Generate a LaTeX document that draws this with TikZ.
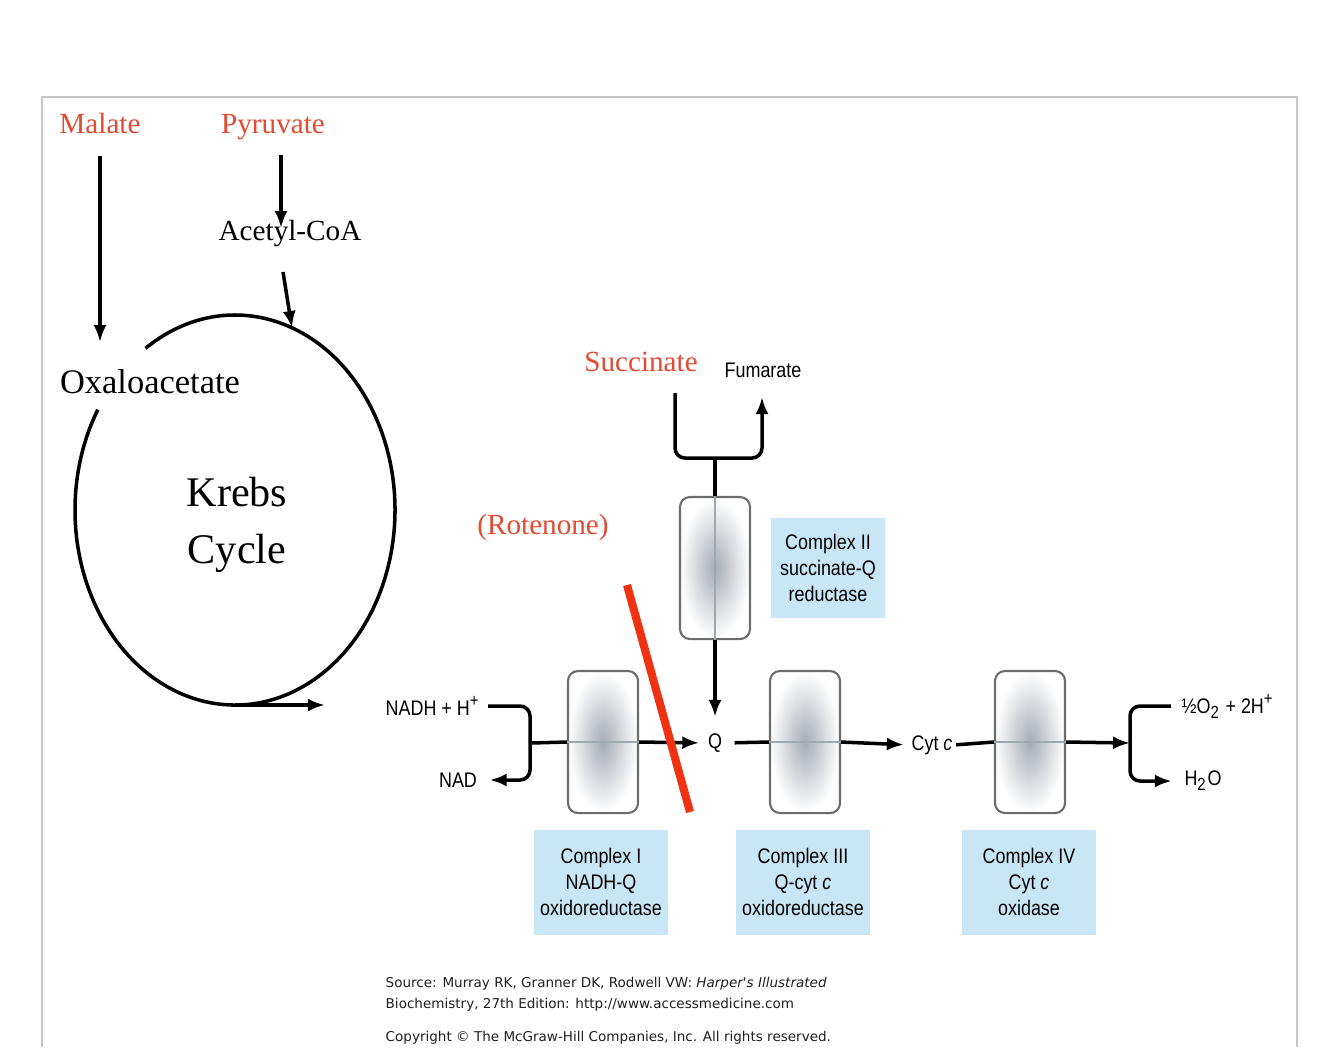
\documentclass[tikz,border=0pt]{standalone}
\usepackage{fontspec}
\setmainfont{Liberation Serif}
\newfontfamily\etich[FakeStretch=0.85]{Liberation Sans}
\newfontfamily\fonte{DejaVu Sans}
\usetikzlibrary{arrows.meta}
\definecolor{rossoc}{RGB}{226,74,50}
\definecolor{azzurro}{RGB}{200,230,246}
\definecolor{barra}{RGB}{238,50,18}
\definecolor{cornice}{RGB}{200,200,200}
\definecolor{nucleo}{RGB}{165,172,182}

\begin{document}
\begin{tikzpicture}[x=0.01cm, y=-0.01cm,
  every node/.style={inner sep=0pt},
  freccia/.style={line width=1pt, -{Latex[length=1.7mm,width=1.3mm]}},
  linea/.style={line width=1pt, rounded corners=1mm},
  rosso/.style={text=rossoc, font=\fontsize{8.3}{10}\selectfont},
  complesso/.style={draw=gray!85!black, line width=0.6pt, rounded corners=1mm, minimum width=0.7cm, minimum height=1.42cm, inner color=nucleo, outer color=white},
  interno/.style={line width=0.4pt, gray!60!azzurro},
  etichetta/.style={fill=azzurro, minimum width=1.33cm, minimum height=1.05cm, align=center, font=\etich\fontsize{6}{7.5}\selectfont},
  piccolo/.style={font=\etich\fontsize{6}{7}\selectfont}]

\useasboundingbox (0,0) rectangle (1334,1047);
\draw[cornice, line width=0.8pt] (42,1047) -- (42,97) -- (1297,97) -- (1297,1047);

% Ciclo di Krebs
\node[rosso, anchor=base] (mal) at (100,133) {Malate};
\node[rosso, anchor=base] (pir) at (273,133) {Pyruvate};
\node[font=\fontsize{8.3}{10}\selectfont] (acc) at (290,234) {Acetyl-CoA};
\node[font=\fontsize{9.8}{12}\selectfont] (oxa) at (150,382) {Oxaloacetate};
\node[font=\fontsize{12}{16}\selectfont, align=center] (krebs) at (237,525) {Krebs\\Cycle};

\coordinate (kc) at (235,510);
\coordinate (kb) at (235,705);
\coordinate (ko) at (325,705);
\coordinate (p1) at (281,155);
\coordinate (p2) at (281,228);
\coordinate (a1) at (283,272);
\coordinate (a2) at (292,328);

\draw[line width=1pt] (kc) ++(236:160 and 195) arc[start angle=236, end angle=571, x radius=160, y radius=195];
\draw[freccia, shorten <=2.2mm, shorten >=2.7mm] (mal.south) -- (mal.south |- oxa.north);
\draw[freccia] (p1) -- (p2);
\draw[freccia] (a1) -- (a2);
\draw[freccia] (kb) -- (ko);

% Catena respiratoria
\node[rosso] (suc) at (641,362) {Succinate};
\node[piccolo] (fum) at (763,370) {Fumarate};
\node[rosso] (rot) at (543,527) {(Rotenone)};

\node[complesso] (c1) at (603,742) {};
\node[complesso] (c2) at (715,568) {};
\node[complesso] (c3) at (805,742) {};
\node[complesso] (c4) at (1030,742) {};

\node[etichetta] (l1) at (601,882) {Complex I\\NADH-Q\\oxidoreductase};
\node[etichetta, minimum width=1.13cm, minimum height=1cm] (l2) at (828,568) {Complex II\\succinate-Q\\reductase};
\node[etichetta] (l3) at (803,882) {Complex III\\Q-cyt \textit{c}\\oxidoreductase};
\node[etichetta] (l4) at (1029,882) {Complex IV\\Cyt \textit{c}\\oxidase};

\node[piccolo] (nadh) at (433,706) {NADH + H\textsuperscript{+}};
\node[piccolo] (nad) at (458,780) {NAD};
\node[piccolo] (q) at (715,743) {Q};
\node[piccolo] (cyt) at (932,745) {Cyt \textit{c}};
\node[piccolo] (o2) at (1228,706) {½O\textsubscript{2} + 2H\textsuperscript{+}};
\node[piccolo] (h2o) at (1203,781) {H\textsubscript{2}O};

\coordinate (s1) at (675,393);
\coordinate (sj) at (715,458);
\coordinate (fu) at (762,458);
\coordinate (s2) at (762,397);
\coordinate (bj) at (530,743);
\coordinate (oj) at (1130,743);

\draw[linea, freccia] (s1) |- (fu) -- (s2);
\draw[line width=1pt] (sj) -- (c2.north);
\draw[freccia, shorten >=1.6mm] (c2.south) -- (q.north);
\draw[linea, freccia, shorten <=0.7mm, shorten >=1.2mm] (nadh.east) -| (bj) |- (nad.east);
\draw[line width=1pt] (bj) -- (c1.west);
\draw[freccia, shorten >=0.8mm] (c1.east) -- (q.west);
\draw[line width=1pt, shorten <=1.2mm] (q.east) -- (c3.west);
\draw[freccia, shorten >=0.7mm] (c3.east) -- (cyt.west);
\draw[line width=1pt, shorten <=0.3mm] (cyt.east) -- (c4.west);
\draw[freccia] (c4.east) -- (oj);
\draw[linea, freccia, shorten <=1mm, shorten >=1.2mm] (o2.west) -| (oj) |- (h2o.west);

\draw[interno] (c1.west) -- (c1.east);
\draw[interno] (c3.west) -- (c3.east);
\draw[interno] (c4.west) -- (c4.east);
\draw[interno] (c2.north) -- (c2.south);

% Rotenone
\coordinate (r1) at (627,585);
\coordinate (r2) at (690,812);
\draw[barra, line width=2.3pt] (r1) -- (r2);

% Fonte
\node[anchor=north west, align=left, text=gray!25!black, font=\fonte\fontsize{3.85}{6}\selectfont] (src) at (385,976) {Source: Murray RK, Granner DK, Rodwell VW: \textit{Harper's Illustrated}\\Biochemistry, 27th Edition: http://www.accessmedicine.com};
\node[anchor=west, text=gray!25!black, font=\fonte\fontsize{3.85}{6}\selectfont] (copy) at (385,1038) {Copyright © The McGraw-Hill Companies, Inc. All rights reserved.};

\end{tikzpicture}
\end{document}
